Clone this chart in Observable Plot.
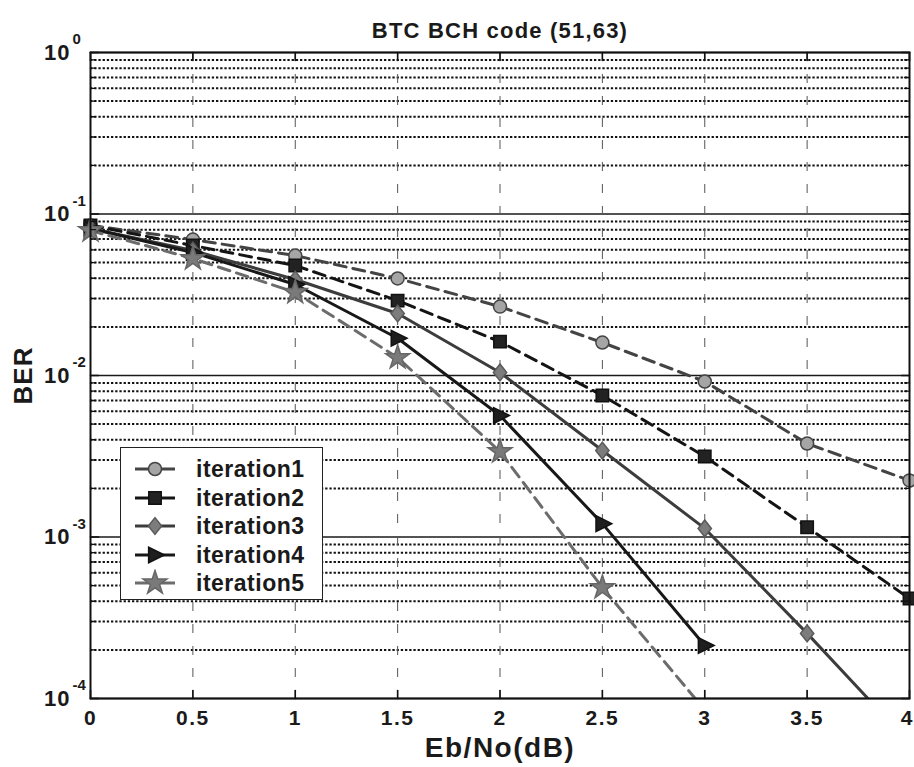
<!DOCTYPE html>
<html>
<head>
<meta charset="utf-8">
<script src="https://cdn.jsdelivr.net/npm/d3@7"></script>
<script src="https://cdn.jsdelivr.net/npm/@observablehq/plot@0.6"></script>
<style>
  body { margin: 0; background: #fff; }
  #wrap { position: relative; width: 914px; height: 767px; overflow: hidden; font-family: "Liberation Sans", Arial, Helvetica, sans-serif; }
  #legend { position: absolute; left: 120px; top: 447px; width: 203px; height: 153px; border: 1.6px solid #222; background: #fff; box-sizing: border-box; }
  .lrow { position: absolute; left: 0; height: 28px; width: 200px; }
  .lrow svg { position: absolute; left: 8px; top: 0; }
  .lrow span { position: absolute; left: 75px; top: 0; line-height: 28px; font-size: 23px; font-weight: bold; letter-spacing: 0.5px; color: #1a1a1a; }
</style>
</head>
<body>
<div id="wrap"></div>
<script>
// ---- data ----
const ebno = [0, 0.5, 1, 1.5, 2, 2.5, 3, 3.5, 4];
const iteration1 = [0.085, 0.0695, 0.0553, 0.0399, 0.0267, 0.0160, 0.00918, 0.00379, 0.00224];
const iteration2 = [0.085, 0.0638, 0.048, 0.0291, 0.0162, 0.00752, 0.00315, 0.00115, 0.000416];
const iteration3 = [0.0813, 0.0594, 0.0393, 0.0242, 0.01044, 0.00343, 0.00113, 0.000253, 0.000053];
const ebnoShort = [0, 0.5, 1, 1.5, 2, 2.5, 3];
const iteration4 = [0.0813, 0.0578, 0.0366, 0.0170, 0.00565, 0.00121, 0.000213];
const iteration5 = [0.079, 0.053, 0.0327, 0.0129, 0.00338, 0.000486, 0.000085];

const seriesNames = ["iteration1", "iteration2", "iteration3", "iteration4", "iteration5"];
const seriesX = [ebno, ebno, ebno, ebnoShort, ebnoShort];
const seriesY = [iteration1, iteration2, iteration3, iteration4, iteration5];

const xTicks = [0, 0.5, 1, 1.5, 2, 2.5, 3, 3.5, 4];
const xGrid = [0.5, 1, 1.5, 2, 2.5, 3, 3.5];
const yDecades = [1e-4, 1e-3, 1e-2, 1e-1, 1];
const minorMult = [2, 3, 4, 5, 6, 7, 8, 9];
const yMinor = yDecades.slice(0, -1).flatMap(d => minorMult.map(m => m * d));
const titleText = "BTC BCH code (51,63)";
const xLabel = "Eb/No(dB)";
const yLabel = "BER";

// ---- styles ----
const triangleRight = {
  draw(ctx, size) {
    const r = Math.sqrt(size / Math.PI);
    ctx.moveTo(r * 1.25, 0);
    ctx.lineTo(-r * 0.85, -r * 1.05);
    ctx.lineTo(-r * 0.85, r * 1.05);
    ctx.closePath();
  }
};
const diamond = {
  draw(ctx, size) {
    const r = Math.sqrt(size / Math.PI);
    ctx.moveTo(0, -r * 1.2);
    ctx.lineTo(r * 0.95, 0);
    ctx.lineTo(0, r * 1.2);
    ctx.lineTo(-r * 0.95, 0);
    ctx.closePath();
  }
};
const styles = [
  {symbol: "circle", d3sym: d3.symbolCircle, r: 6.5, fill: "#a5a5a5", stroke: "#444", line: "#444", dash: "12,7"},
  {symbol: "square", d3sym: d3.symbolSquare, r: 7, fill: "#222", stroke: "#111", line: "#141414", dash: "12,7"},
  {symbol: diamond, d3sym: diamond, r: 7, fill: "#7c7c7c", stroke: "#5a5a5a", line: "#3c3c3c", dash: null},
  {symbol: triangleRight, d3sym: triangleRight, r: 7.5, fill: "#1e1e1e", stroke: "#111", line: "#181818", dash: null},
  {symbol: "star", d3sym: d3.symbolStar, r: 7.5, fill: "#7a7a7a", stroke: "#666", line: "#6c6c6c", dash: "12,7"}
];

const rows = seriesNames.map((name, i) => seriesX[i].map((x, j) => ({series: name, x, y: seriesY[i][j]})));

const tickShape = {draw(ctx, l) { ctx.moveTo(0, 0); ctx.lineTo(0, -l); }};
const font = "Liberation Sans, Arial, Helvetica, sans-serif";

const marks = [
  // horizontal grid
  Plot.ruleY(yMinor, {y: d => d, stroke: "#111", strokeWidth: 2, strokeDasharray: "2.3,1.9"}),
  Plot.ruleY(yDecades, {y: d => d, stroke: "#1a1a1a", strokeWidth: 1.6}),
  // vertical grid
  Plot.ruleX(xGrid, {x: d => d, stroke: "#555", strokeWidth: 1, strokeDasharray: "9,13"}),
];
rows.forEach((data, i) => {
  const s = styles[i];
  marks.push(Plot.line(data, {x: "x", y: "y", stroke: s.line, strokeWidth: 3, strokeDasharray: s.dash, clip: true}));
});
rows.forEach((data, i) => {
  const s = styles[i];
  marks.push(Plot.dot(data.filter(d => d.y >= 1e-4), {x: "x", y: "y", symbol: s.symbol, r: s.r, fill: s.fill, stroke: s.stroke, strokeWidth: 1.5}));
});
marks.push(
  Plot.frame({stroke: "#111", strokeWidth: 2}),
  // inward ticks
  Plot.vector(xTicks, {x: d => d, frameAnchor: "bottom", rotate: 0, length: 8, anchor: "start", shape: tickShape, stroke: "#111", strokeWidth: 1.6}),
  Plot.vector(xTicks, {x: d => d, frameAnchor: "top", rotate: 180, length: 8, anchor: "start", shape: tickShape, stroke: "#111", strokeWidth: 1.6}),
  Plot.vector(yDecades, {y: d => d, frameAnchor: "left", rotate: 90, length: 8, anchor: "start", shape: tickShape, stroke: "#111", strokeWidth: 1.6}),
  Plot.vector(yDecades, {y: d => d, frameAnchor: "right", rotate: -90, length: 8, anchor: "start", shape: tickShape, stroke: "#111", strokeWidth: 1.6}),
  Plot.vector(yMinor, {y: d => d, frameAnchor: "left", rotate: 90, length: 5, anchor: "start", shape: tickShape, stroke: "#111", strokeWidth: 1.4}),
  Plot.vector(yMinor, {y: d => d, frameAnchor: "right", rotate: -90, length: 5, anchor: "start", shape: tickShape, stroke: "#111", strokeWidth: 1.4}),
  // tick labels
  Plot.text(xTicks, {x: d => d, text: d => String(d), frameAnchor: "bottom", lineAnchor: "middle", textAnchor: "middle",
    dy: 20, fontSize: 21, fontWeight: "bold", fill: "#1a1a1a"}),
  Plot.text(yDecades, {y: d => d, text: () => "10", frameAnchor: "left", lineAnchor: "middle", dx: -20, textAnchor: "end", fontSize: 22, fontWeight: "bold", fill: "#1a1a1a"}),
  Plot.text(yDecades, {y: d => d, text: d => String(Math.round(Math.log10(d))), frameAnchor: "left", lineAnchor: "middle", dx: -18, dy: -13, textAnchor: "start", fontSize: 15, fontWeight: "bold", fill: "#1a1a1a"}),
  // labels
  Plot.text([xLabel], {frameAnchor: "bottom", lineAnchor: "middle", textAnchor: "middle", dy: 50, fontSize: 28, fontWeight: "bold", fill: "#1a1a1a"}),
  Plot.text([yLabel], {frameAnchor: "left", lineAnchor: "middle", textAnchor: "middle", dx: -67, rotate: -90, fontSize: 26, fontWeight: "bold", fill: "#1a1a1a"}),
  Plot.text([titleText], {frameAnchor: "top", lineAnchor: "middle", textAnchor: "middle", dy: -22, fontSize: 22, fontWeight: "bold", fill: "#1a1a1a"})
);

const chart = Plot.plot({
  width: 914,
  height: 767,
  marginLeft: 90,
  marginRight: 5,
  marginTop: 52,
  marginBottom: 69,
  style: {fontFamily: font, background: "#fff", overflow: "visible"},
  x: {domain: [0, 4], axis: null},
  y: {type: "log", domain: [1e-4, 1], axis: null},
  marks
});

// letter spacing to match the wide scanned lettering
const spacing = new Map([[titleText, "1.2px"], [xLabel, "1.5px"], [yLabel, "1px"], ["10", "1px"]]);
xTicks.forEach(t => spacing.set(String(t), "1.5px"));
chart.querySelectorAll("text").forEach(t => {
  const ls = spacing.get(t.textContent);
  if (ls) t.style.letterSpacing = ls;
  // keep the rightmost x tick label on the page
  if (t.textContent === String(xTicks[xTicks.length - 1])) {
    t.setAttribute("text-anchor", "end");
    t.setAttribute("dx", "3");
    t.style.letterSpacing = "0px";
  }
});

const wrap = document.getElementById("wrap");
wrap.appendChild(chart);

// ---- legend ----
const legend = document.createElement("div");
legend.id = "legend";
seriesNames.forEach((name, i) => {
  const s = styles[i];
  const row = document.createElement("div");
  row.className = "lrow";
  row.style.top = (7 + i * 28.5) + "px";
  const svg = d3.create("svg").attr("width", 60).attr("height", 28);
  svg.append("line").attr("x1", 6).attr("x2", 46).attr("y1", 14).attr("y2", 14)
    .attr("stroke", s.line).attr("stroke-width", 3);
  svg.append("path").attr("transform", "translate(26,14)")
    .attr("d", d3.symbol(s.d3sym, Math.PI * s.r * s.r)())
    .attr("fill", s.fill).attr("stroke", s.stroke).attr("stroke-width", 1.5);
  row.appendChild(svg.node());
  const span = document.createElement("span");
  span.textContent = name;
  row.appendChild(span);
  legend.appendChild(row);
});
wrap.appendChild(legend);
</script>
</body>
</html>
